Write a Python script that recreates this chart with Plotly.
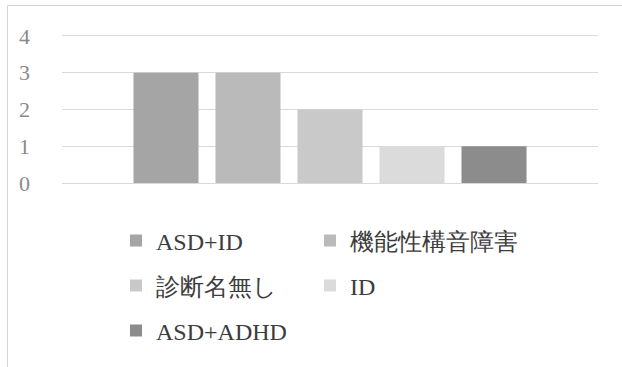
import plotly.graph_objects as go

# Diagnosis groups and the number of cases in each
series_names = ["ASD+ID", "機能性構音障害", "診断名無し", "ID", "ASD+ADHD"]
case_counts = [3, 3, 2, 1, 1]
bar_colors = ["#a5a5a5", "#bababa", "#c9c9c9", "#dbdbdb", "#8c8c8c"]
y_ticks = [0, 1, 2, 3, 4]

W, H = 622, 367
M_L, M_R, M_T, M_B = 62, 24, 34, 184
plot_w = W - M_L - M_R
plot_h = H - M_T - M_B

def px_to_paper_x(px):
    return (px - M_L) / plot_w

def px_to_paper_y(py):
    return (H - M_B - py) / plot_h

# each legend entry gets its own box: two columns, three rows
legend_cols_px = [116, 310]
legend_rows_px = [241, 286, 331]
slots = [(0, 0), (1, 0), (0, 1), (1, 1), (0, 2)]

label_font = dict(family="Liberation Serif", size=24, color="#3c3c3c")

fig = go.Figure()
legend_layout = {}
for i, (name, val, col) in enumerate(zip(series_names, case_counts, bar_colors)):
    key = "legend" if i == 0 else f"legend{i + 1}"
    fig.add_trace(go.Bar(
        x=[""], y=[val], name=name, marker=dict(color=col, line=dict(width=0)),
        legend=key,
    ))
    c, r = slots[i]
    legend_layout[key] = dict(
        x=px_to_paper_x(legend_cols_px[c]), y=px_to_paper_y(legend_rows_px[r]),
        xanchor="left", yanchor="middle", orientation="h",
        font=label_font, bgcolor="rgba(0,0,0,0)", borderwidth=0,
    )

fig.update_layout(
    width=W, height=H,
    font=dict(family="Liberation Serif"),
    margin=dict(l=M_L, r=M_R, t=M_T, b=M_B, autoexpand=False),
    paper_bgcolor="white", plot_bgcolor="white",
    barmode="group", bargap=0.235, bargroupgap=0.207,
    showlegend=True,
    xaxis=dict(showticklabels=False, showgrid=False, zeroline=False, showline=False, ticks=""),
    yaxis=dict(
        range=[0, 4.05], tickvals=y_ticks, showgrid=True, gridcolor="#d9d9d9", gridwidth=1,
        zeroline=True, zerolinecolor="#d9d9d9", zerolinewidth=1, showline=False, ticks="",
        tickfont=dict(family="Liberation Serif", size=22, color="#8a8a8a"),
        ticklabelstandoff=31,
    ),
    shapes=[dict(
        type="rect", xref="paper", yref="paper",
        x0=px_to_paper_x(7.5), x1=px_to_paper_x(660),
        y0=px_to_paper_y(400), y1=px_to_paper_y(5.5),
        line=dict(color="#d4d4d4", width=1), fillcolor="rgba(0,0,0,0)", layer="below",
    )],
    **legend_layout,
)

fig.write_html("out.html")
